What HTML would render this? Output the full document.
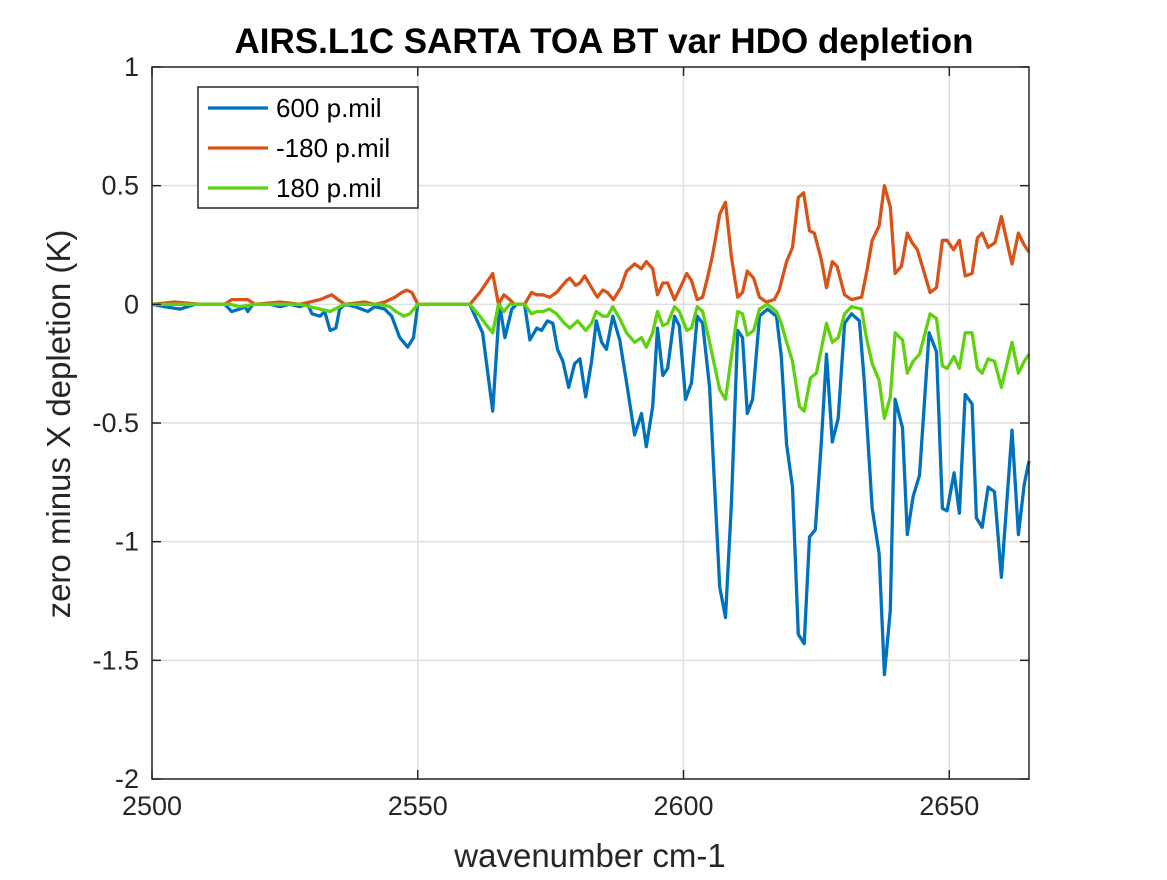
<!DOCTYPE html>
<html><head><meta charset="utf-8"><style>
body{margin:0;background:#fff}
svg text{font-family:"Liberation Sans",sans-serif;fill:#262626}
</style></head><body>
<svg id="chart" width="1167" height="875"></svg>
<script>
const xTicks=[2500,2550,2600,2650];
const yTicks=[1,0.5,0,-0.5,-1,-1.5,-2];
const yTickLabels=["1","0.5","0","-0.5","-1","-1.5","-2"];
const seriesNames=["600 p.mil","-180 p.mil","180 p.mil"];
const wn600=[2500,2502.4,2505.3,2508.1,2513.7,2515.0,2516.5,2517.5,2518.0,2519.0,2522.2,2524.1,2525.9,2527.8,2529.3,2530.1,2531.6,2532.5,2533.5,2534.6,2535.3,2536.3,2538.2,2540.6,2541.9,2543.8,2545.1,2546.6,2548.1,2549.2,2550.0,2559.8,2562.2,2564.1,2565.4,2566.4,2567.7,2568.6,2570.1,2571.1,2572.4,2573.3,2574.4,2575.4,2576.3,2577.3,2578.4,2579.5,2580.5,2581.6,2582.7,2583.6,2584.6,2585.5,2586.7,2588.0,2589.3,2590.8,2592.1,2593.0,2594.2,2595.1,2596.1,2597.0,2598.3,2599.2,2600.4,2601.5,2602.6,2603.6,2604.9,2606.8,2607.9,2609.0,2610.2,2611.1,2612.0,2613.0,2614.3,2615.8,2617.5,2618.4,2619.4,2620.5,2621.6,2622.7,2623.7,2624.8,2625.9,2626.9,2628.0,2629.1,2630.3,2631.6,2633.1,2634.0,2635.5,2636.8,2637.8,2638.9,2639.8,2641.2,2642.1,2643.2,2644.4,2646.2,2647.6,2648.7,2649.6,2650.9,2651.9,2653.0,2654.3,2655.1,2656.2,2657.3,2658.5,2659.8,2661.8,2663.0,2664.1,2665.0];
const k600=[0,-0.01,-0.02,0,0,-0.03,-0.02,-0.01,-0.03,0,0,-0.01,0,-0.01,0,-0.04,-0.05,-0.03,-0.11,-0.10,-0.02,0,-0.01,-0.03,-0.01,-0.02,-0.05,-0.14,-0.18,-0.14,0,0,-0.12,-0.45,0,-0.14,-0.02,0,0,-0.15,-0.10,-0.11,-0.07,-0.08,-0.19,-0.24,-0.35,-0.25,-0.23,-0.39,-0.24,-0.07,-0.16,-0.19,-0.05,-0.15,-0.33,-0.55,-0.46,-0.60,-0.43,-0.10,-0.30,-0.27,-0.05,-0.09,-0.40,-0.33,-0.05,-0.08,-0.35,-1.19,-1.32,-0.84,-0.11,-0.14,-0.46,-0.40,-0.05,-0.02,-0.05,-0.22,-0.59,-0.77,-1.39,-1.43,-0.98,-0.95,-0.59,-0.21,-0.58,-0.48,-0.08,-0.04,-0.07,-0.32,-0.86,-1.05,-1.56,-1.29,-0.40,-0.52,-0.97,-0.81,-0.72,-0.12,-0.20,-0.86,-0.87,-0.71,-0.88,-0.38,-0.42,-0.90,-0.94,-0.77,-0.79,-1.15,-0.53,-0.97,-0.76,-0.66];
const wnM180=[2500,2504.3,2509.0,2513.7,2515.0,2518.0,2519.4,2524.1,2527.8,2529.7,2531.6,2533.8,2535.0,2536.3,2540.0,2541.9,2543.8,2545.7,2547.0,2547.9,2548.9,2550.0,2559.8,2561.7,2562.6,2564.1,2565.2,2566.2,2567.3,2568.2,2570.1,2571.4,2572.4,2573.5,2574.8,2576.1,2578.0,2578.6,2579.7,2580.5,2581.4,2582.7,2583.8,2584.8,2585.7,2586.8,2588.2,2589.3,2590.8,2592.1,2593.0,2594.2,2595.1,2596.1,2597.0,2598.3,2599.4,2600.6,2601.5,2602.6,2603.6,2604.5,2605.5,2606.8,2607.9,2609.0,2610.2,2611.1,2612.0,2613.2,2614.3,2615.6,2617.1,2618.0,2619.4,2620.5,2621.6,2622.6,2623.7,2624.6,2625.9,2626.9,2628.0,2628.9,2630.3,2631.6,2633.5,2634.4,2635.5,2636.8,2637.8,2638.9,2639.8,2641.0,2642.1,2643.0,2644.0,2646.4,2647.6,2648.7,2649.6,2650.8,2651.9,2653.0,2654.3,2655.3,2656.2,2657.3,2658.6,2659.8,2660.7,2661.8,2663.0,2664.1,2665.0];
const kM180=[0,0.01,0,0,0.02,0.02,0,0.01,0,0.01,0.02,0.04,0.02,0,0.01,0,0.01,0.03,0.05,0.06,0.05,0,0,0.05,0.08,0.13,0,0.04,0.02,0,0,0.05,0.04,0.04,0.03,0.05,0.10,0.11,0.08,0.09,0.12,0.07,0.03,0.06,0.05,0.02,0.07,0.14,0.17,0.15,0.18,0.15,0.04,0.09,0.09,0.02,0.07,0.13,0.10,0.02,0.03,0.11,0.21,0.38,0.43,0.20,0.03,0.05,0.14,0.11,0.03,0.01,0.02,0.06,0.18,0.24,0.45,0.47,0.31,0.30,0.19,0.07,0.18,0.16,0.04,0.02,0.03,0.13,0.27,0.33,0.50,0.41,0.13,0.16,0.30,0.26,0.23,0.05,0.07,0.27,0.27,0.23,0.27,0.12,0.13,0.28,0.30,0.24,0.26,0.37,0.28,0.17,0.30,0.25,0.22];
const wn180=[2500,2514.7,2516.5,2519.4,2527.8,2531.6,2533.5,2535.3,2536.3,2542.9,2544.7,2545.9,2547.4,2548.5,2550.0,2559.8,2561.7,2563.0,2564.1,2565.2,2566.2,2567.3,2570.1,2571.4,2572.4,2573.5,2574.8,2576.1,2577.6,2578.6,2580.1,2581.6,2582.7,2583.6,2584.8,2585.7,2586.7,2588.0,2589.3,2590.8,2592.1,2593.0,2594.2,2595.1,2596.1,2597.0,2598.3,2599.2,2600.6,2601.5,2602.6,2603.6,2604.9,2606.8,2607.9,2609.0,2610.2,2611.1,2612.0,2613.2,2614.3,2615.8,2617.5,2618.4,2619.4,2620.5,2621.8,2622.7,2623.9,2625.0,2625.9,2626.9,2628.0,2629.1,2630.3,2631.6,2633.5,2634.4,2635.5,2636.8,2637.8,2638.9,2639.8,2641.2,2642.1,2643.2,2644.4,2646.4,2647.6,2648.7,2649.6,2650.9,2651.9,2653.0,2654.3,2655.3,2656.2,2657.3,2658.5,2659.8,2661.8,2663.0,2664.1,2665.0];
const k180=[0,0,-0.01,0,0,-0.02,-0.03,-0.01,0,0,-0.01,-0.03,-0.05,-0.04,0,0,-0.05,-0.09,-0.12,0,-0.03,0,0,-0.04,-0.03,-0.03,-0.02,-0.04,-0.08,-0.10,-0.07,-0.11,-0.08,-0.03,-0.05,-0.05,-0.01,-0.06,-0.12,-0.16,-0.14,-0.18,-0.12,-0.03,-0.09,-0.08,-0.01,-0.03,-0.11,-0.10,-0.01,-0.03,-0.16,-0.36,-0.40,-0.22,-0.03,-0.04,-0.13,-0.11,-0.02,0,-0.03,-0.08,-0.16,-0.24,-0.43,-0.45,-0.31,-0.29,-0.19,-0.08,-0.16,-0.14,-0.04,-0.01,-0.02,-0.14,-0.25,-0.32,-0.48,-0.39,-0.12,-0.15,-0.29,-0.24,-0.21,-0.04,-0.06,-0.26,-0.27,-0.22,-0.27,-0.12,-0.12,-0.27,-0.29,-0.23,-0.24,-0.35,-0.16,-0.29,-0.24,-0.21];

const L=152,R=1029,T=67,B=779,X0=2500,X1=2665,Y0=-2,Y1=1;
const sx=v=>L+(v-X0)/(X1-X0)*(R-L);
const sy=v=>B-(v-Y0)/(Y1-Y0)*(B-T);
const NS="http://www.w3.org/2000/svg";
const svg=document.getElementById('chart');
function mk(tag,attrs,parent){const e=document.createElementNS(NS,tag);for(const k in attrs)e.setAttribute(k,attrs[k]);(parent||svg).appendChild(e);return e;}

const grid=mk('g',{});


xTicks.forEach(t=>{const l=mk('line',{x1:sx(t),x2:sx(t),y1:T,y2:B,stroke:'#dfdfdf','stroke-width':1.5},grid);

});
yTicks.forEach(t=>{const l=mk('line',{x1:L,x2:R,y1:sy(t),y2:sy(t),stroke:'#dfdfdf','stroke-width':1.5},grid);

});

const colors=['#0072bd','#d95319','#5fd10f'];
const xs=[wn600,wnM180,wn180], ys=[k600,kM180,k180];
const lineNames=['line-600-pmil','line-minus180-pmil','line-180-pmil'];
xs.forEach((xa,i)=>{
  const d=xa.map((x,j)=>(j?'L':'M')+sx(x).toFixed(1)+','+sy(ys[i][j]).toFixed(1)).join('');
  const p=mk('path',{d:d,fill:'none',stroke:colors[i],'stroke-width':3.3,'stroke-linejoin':'round'});
  
  
});

const ax=mk('rect',{x:L,y:T,width:R-L,height:B-T,fill:'none',stroke:'#262626','stroke-width':1.5});


xTicks.forEach(t=>{
  mk('line',{x1:sx(t),x2:sx(t),y1:B,y2:B-9,stroke:'#262626','stroke-width':1.5});
  mk('line',{x1:sx(t),x2:sx(t),y1:T,y2:T+9,stroke:'#262626','stroke-width':1.5});
  const tx=mk('text',{x:sx(t),y:B+36,'font-size':27,'text-anchor':'middle'});tx.textContent=t;
  
  
});
yTicks.forEach((t,i)=>{
  mk('line',{x1:L,x2:L+9,y1:sy(t),y2:sy(t),stroke:'#262626','stroke-width':1.5});
  mk('line',{x1:R,x2:R-9,y1:sy(t),y2:sy(t),stroke:'#262626','stroke-width':1.5});
  const tx=mk('text',{x:L-13,y:sy(t)+9,'font-size':27,'text-anchor':'end'});tx.textContent=yTickLabels[i];
  
  
});
const title=mk('text',{x:604,y:53,'font-size':35,'font-weight':'bold','text-anchor':'middle',style:'fill:#000'});
title.textContent='AIRS.L1C SARTA TOA BT var HDO depletion';


const xl=mk('text',{x:590,y:867,'font-size':33,'text-anchor':'middle'});
xl.textContent='wavenumber cm-1';


const yl=mk('text',{x:0,y:0,'font-size':33,'text-anchor':'middle',transform:'translate(70,424) rotate(-90)'});
yl.textContent='zero minus X depletion (K)';



const lg=mk('g',{});


mk('rect',{x:198,y:87,width:220,height:121,fill:'#fff',stroke:'#262626','stroke-width':1.5},lg);
seriesNames.forEach((n,i)=>{
  const y=108+i*40;
  const e=mk('g',{},lg);
  
  
  mk('line',{x1:208,x2:268,y1:y,y2:y,stroke:colors[i],'stroke-width':3.3},e);
  const t=mk('text',{x:276,y:y+9,'font-size':26,style:'fill:#000'},e);t.textContent=n;
});
</script>
</body></html>
